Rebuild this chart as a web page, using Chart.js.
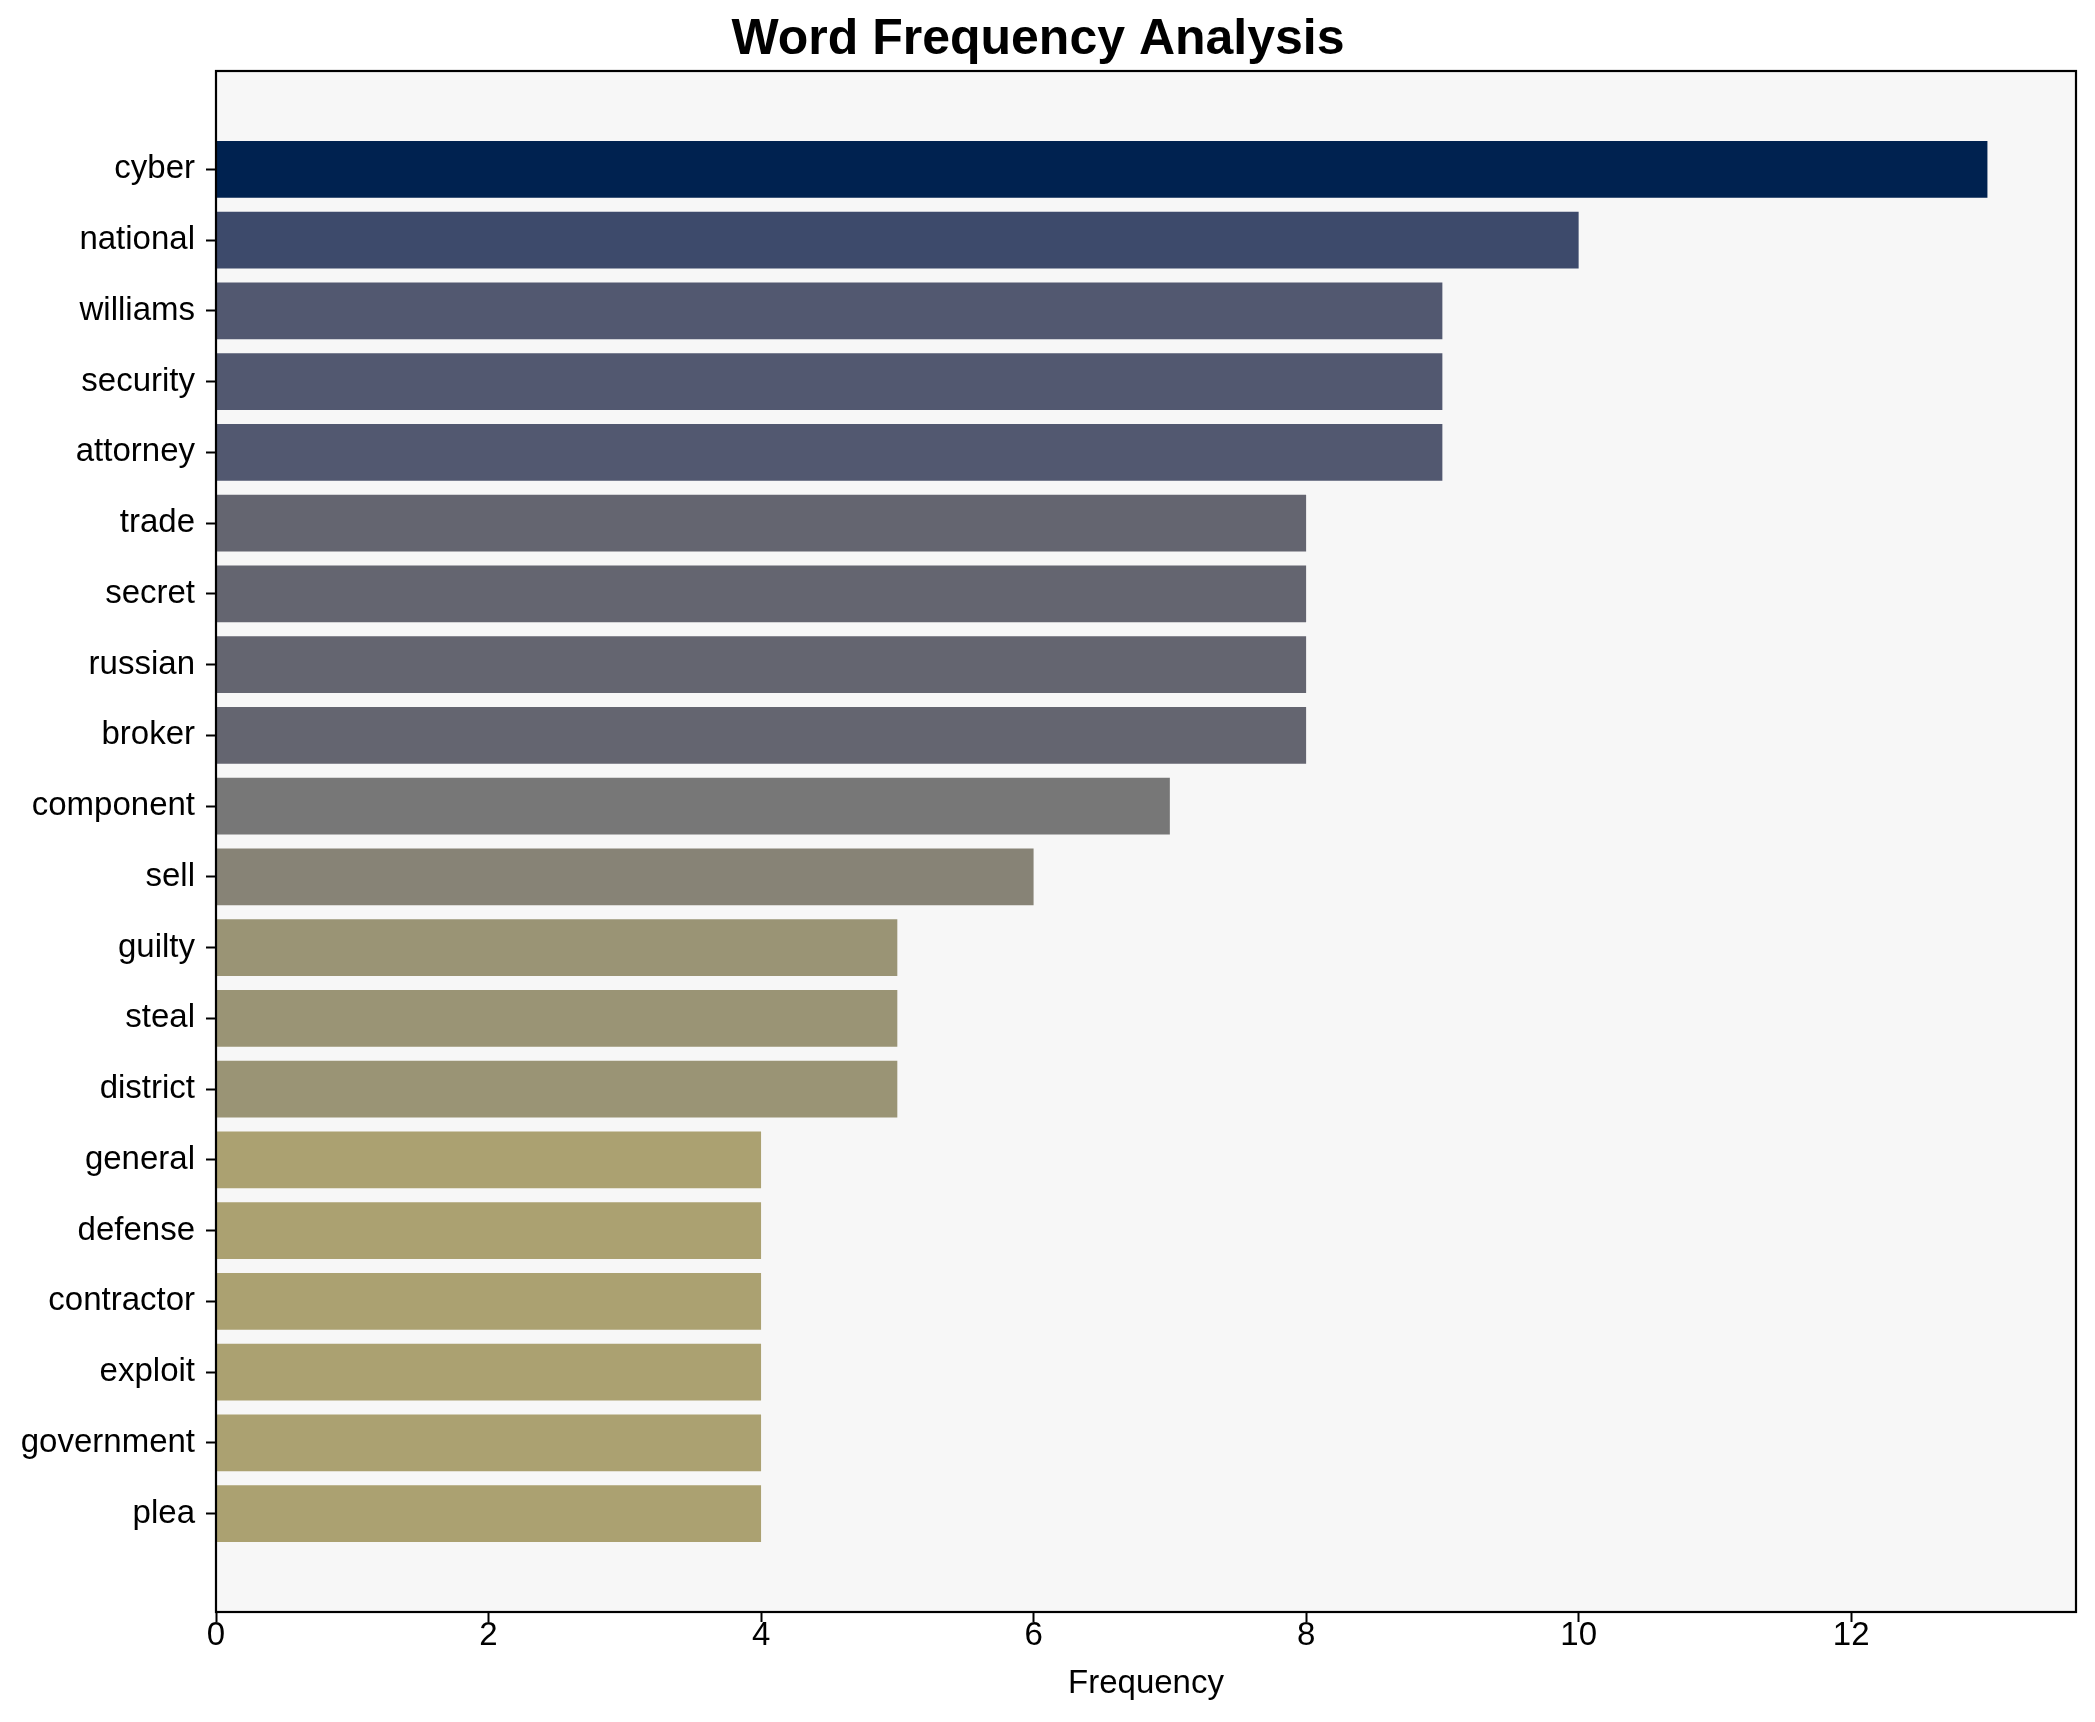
<!DOCTYPE html>
<html>
<head>
<meta charset="utf-8">
<script src="https://cdn.jsdelivr.net/npm/chart.js@4"></script>
<style>
html,body{margin:0;padding:0;background:#ffffff;}
#wrap{width:2095px;height:1722px;}
</style>
</head>
<body>
<div id="wrap"><canvas id="c" width="2095" height="1722"></canvas></div>
<script>
const categories = ["cyber","national","williams","security","attorney","trade","secret","russian","broker","component","sell","guilty","steal","district","general","defense","contractor","exploit","government","plea"];
const frequencies = [13,10,9,9,9,8,8,8,8,7,6,5,5,5,4,4,4,4,4,4];
const xTicks = [0,2,4,6,8,10,12];
const titleText = "Word Frequency Analysis";
const xLabel = "Frequency";

// colour per frequency value (cividis-like shading)
const colorByValue = {13:"#002250",10:"#3d4a6b",9:"#525870",8:"#646570",7:"#777777",6:"#878376",5:"#9a9475",4:"#aba171"};

const frame = {
  id: 'frame',
  beforeDraw(chart){
    const {ctx, chartArea:a} = chart;
    ctx.save();
    ctx.fillStyle = '#f7f7f7';
    ctx.fillRect(a.left, a.top, a.right - a.left, a.bottom - a.top);
    ctx.restore();
  },
  afterDraw(chart){
    const {ctx, chartArea:a} = chart;
    ctx.save();
    ctx.strokeStyle = '#000';
    ctx.lineWidth = 2.2;
    ctx.strokeRect(a.left, a.top, a.right - a.left, a.bottom - a.top);
    ctx.restore();
  }
};

Chart.defaults.font.family = "'Liberation Sans', Arial, sans-serif";
Chart.defaults.color = '#000';

const maxVal = Math.max(...frequencies);
const n = categories.length;
const barH = 0.8;
const yMargin = 0.05 * (n - 1 + barH);
const xMargin = 0.05 * maxVal;

new Chart(document.getElementById('c'), {
  type: 'bar',
  data: {
    datasets: [{
      data: categories.map((c, i) => ({x: frequencies[i], y: i})),
      backgroundColor: frequencies.map(v => colorByValue[v]),
      borderWidth: 0,
      barPercentage: barH,
      categoryPercentage: 1.0
    }]
  },
  options: {
    indexAxis: 'y',
    responsive: false,
    animation: false,
    devicePixelRatio: 1,
    layout: {padding: {left: 0, right: 19, top: 0, bottom: 0}},
    plugins: {
      legend: {display: false},
      tooltip: {enabled: false},
      title: {
        display: true,
        text: titleText,
        font: {size: 50, weight: 'bold'},
        color: '#000',
        padding: {top: 10, bottom: 1},
        lineHeight: 1.2
      }
    },
    scales: {
      x: {
        type: 'linear',
        min: 0,
        max: maxVal + xMargin,
        grid: {drawOnChartArea: false, drawTicks: true, tickLength: 10, tickWidth: 2, tickColor: '#000'},
        border: {display: true, color: '#000', width: 2},
        afterBuildTicks: (axis) => { axis.ticks = xTicks.map(v => ({value: v})); },
        ticks: {font: {size: 33}, color: '#000', padding: -6, maxRotation: 0, autoSkip: false},
        title: {display: true, text: xLabel, font: {size: 33}, color: '#000', padding: {top: 4, bottom: 18}},
        afterFit: (scale) => { scale.height = 110; }
      },
      y: {
        type: 'linear',
        reverse: true,
        offset: false,
        min: -0.4 - yMargin,
        max: (n - 1) + 0.4 + yMargin,
        grid: {offset: false, drawOnChartArea: false, drawTicks: true, tickLength: 10, tickWidth: 2, tickColor: '#000'},
        border: {display: true, color: '#000', width: 2},
        afterBuildTicks: (axis) => { axis.ticks = categories.map((c, i) => ({value: i})); },
        ticks: {
          font: {size: 33}, color: '#000', padding: 11, autoSkip: false,
          callback: (v) => categories[v]
        },
        afterFit: (scale) => { scale.width = 216; }
      }
    }
  },
  plugins: [frame]
});
</script>
</body>
</html>
